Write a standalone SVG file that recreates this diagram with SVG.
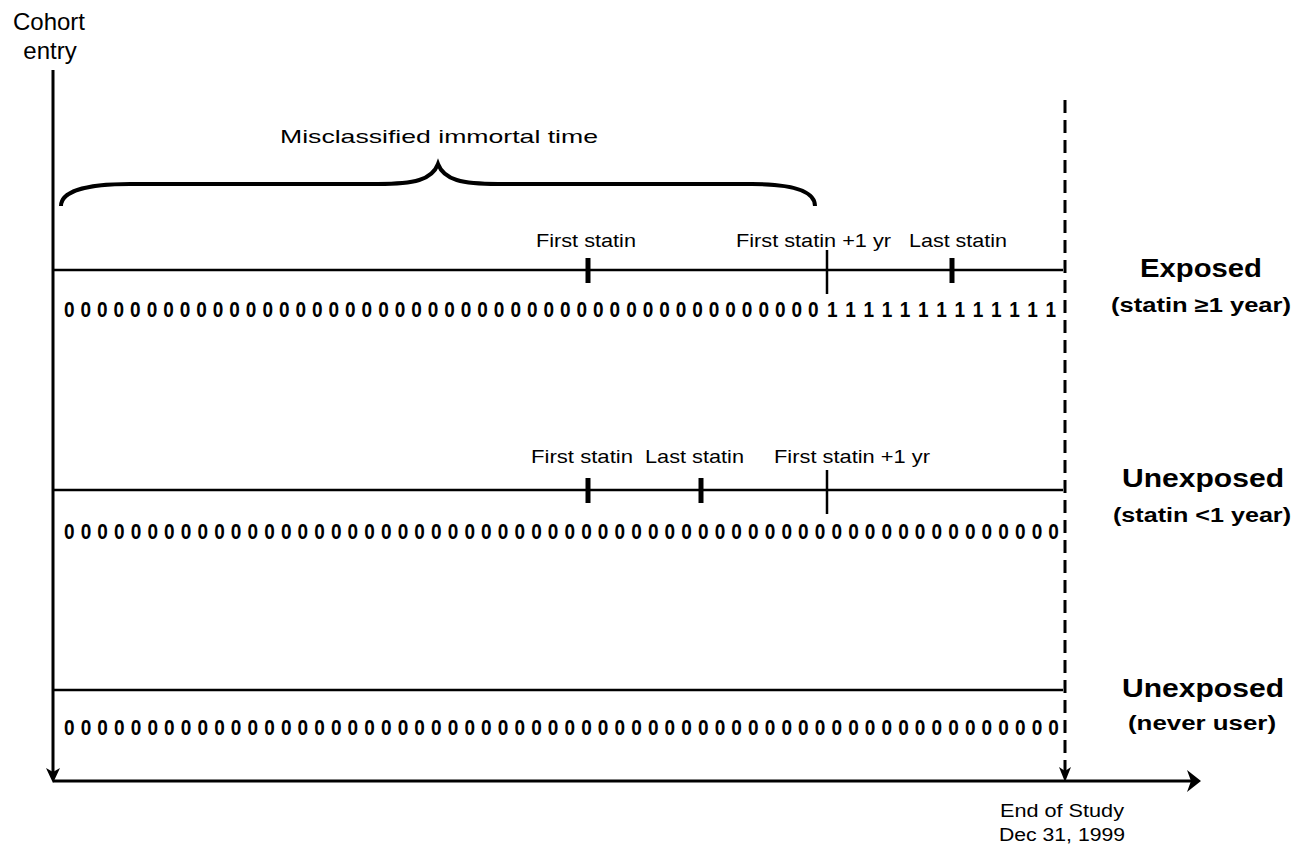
<svg xmlns="http://www.w3.org/2000/svg" width="1313" height="849" viewBox="0 0 1313 849">
<style>
.ax{stroke:#000;stroke-width:3;fill:none}
.row{stroke:#000;stroke-width:2.5;fill:none}
.tk{stroke:#000;stroke-width:5;fill:none}
.tn{stroke:#000;stroke-width:2.5;fill:none}
.dash{stroke:#000;stroke-width:3;fill:none;stroke-dasharray:13 7}
.ah{fill:#000;stroke:none}
.lbl{font-family:"Liberation Sans",Arial,sans-serif;font-size:19px;fill:#000}
.big{font-family:"Liberation Sans",Arial,sans-serif;font-size:25px;font-weight:bold;fill:#000;text-anchor:middle}
.sub{font-family:"Liberation Sans",Arial,sans-serif;font-size:20px;font-weight:bold;fill:#000;text-anchor:middle}
.dig{font-family:"Liberation Sans",Arial,sans-serif;font-size:19px;font-weight:bold;fill:#000}
.top{font-family:"Liberation Sans",Arial,sans-serif;font-size:24px;fill:#000;text-anchor:middle}
.end{font-family:"Liberation Sans",Arial,sans-serif;font-size:18px;fill:#000;text-anchor:middle}
</style>
<g id="connectors">
<line class="ax" x1="53" y1="70" x2="53" y2="772"/>
<path class="ah" d="M53,783 L46,768 L53,772 L60,768 Z"/>
<line class="ax" x1="53" y1="781" x2="1192" y2="781"/>
<path class="ah" d="M1201,781 L1187,770 L1191,781 L1187,792 Z"/>
<line class="dash" x1="1065" y1="100" x2="1065" y2="771"/>
<path class="ah" d="M1065,782 L1059,767 L1065,771 L1071,767 Z"/>
</g>
<g id="cohort-entry"><text class="top" x="49" y="30">Cohort</text><text class="top" x="50" y="59">entry</text></g>
<g id="immortal-brace">
<path d="M61,206 C61,191 88,184 130,184 L378,184 C414,184 432,180 438,164 C444,180 462,184 498,184 L752,184 C792,184 815,191 815,206" stroke="#000" stroke-width="4" fill="none"/>
<text class="lbl" x="439" y="143" text-anchor="middle" font-size="23" textLength="318" lengthAdjust="spacingAndGlyphs">Misclassified immortal time</text>
</g>
<g id="row-exposed">
<line class="row" x1="53" y1="270" x2="1063" y2="270"/>
<line class="tk" x1="588" y1="258" x2="588" y2="283"/>
<line class="tn" x1="827" y1="250" x2="827" y2="294"/>
<line class="tk" x1="952" y1="258" x2="952" y2="283"/>
<text class="lbl" x="536" y="247" textLength="100" lengthAdjust="spacingAndGlyphs">First statin</text>
<text class="lbl" x="736" y="247" textLength="155" lengthAdjust="spacingAndGlyphs">First statin +1 yr</text>
<text class="lbl" x="909" y="247" textLength="98" lengthAdjust="spacingAndGlyphs">Last statin</text>
<g transform="translate(0,317) scale(1,1.15)"><text class="dig" x="64" y="0" letter-spacing="5.97">0000000000000000000000000000000000000000000000</text><text class="dig" x="827" y="0" letter-spacing="8.7">1111111111111</text></g>
<text class="big" x="1201" y="277" textLength="122" lengthAdjust="spacingAndGlyphs">Exposed</text>
<text class="sub" x="1201" y="312" textLength="180" lengthAdjust="spacingAndGlyphs">(statin ≥1 year)</text>
</g>
<g id="row-unexposed-short">
<line class="row" x1="53" y1="490" x2="1063" y2="490"/>
<line class="tk" x1="588" y1="478" x2="588" y2="503"/>
<line class="tk" x1="701" y1="478" x2="701" y2="503"/>
<line class="tn" x1="827" y1="470" x2="827" y2="514"/>
<text class="lbl" x="531" y="463" textLength="102" lengthAdjust="spacingAndGlyphs">First statin</text>
<text class="lbl" x="645" y="463" textLength="99" lengthAdjust="spacingAndGlyphs">Last statin</text>
<text class="lbl" x="774" y="463" textLength="156" lengthAdjust="spacingAndGlyphs">First statin +1 yr</text>
<g transform="translate(0,539) scale(1,1.15)"><text class="dig" x="64" y="0" letter-spacing="6.12">000000000000000000000000000000000000000000000000000000000000</text></g>
<text class="big" x="1203" y="487" textLength="162" lengthAdjust="spacingAndGlyphs">Unexposed</text>
<text class="sub" x="1202" y="522" textLength="178" lengthAdjust="spacingAndGlyphs">(statin &lt;1 year)</text>
</g>
<g id="row-never-user">
<line class="row" x1="53" y1="690" x2="1063" y2="690"/>
<g transform="translate(0,735) scale(1,1.15)"><text class="dig" x="64" y="0" letter-spacing="6.12">000000000000000000000000000000000000000000000000000000000000</text></g>
<text class="big" x="1203" y="697" textLength="162" lengthAdjust="spacingAndGlyphs">Unexposed</text>
<text class="sub" x="1202" y="730" textLength="148" lengthAdjust="spacingAndGlyphs">(never user)</text>
</g>
<g id="end-of-study">
<text class="end" x="1062" y="817" textLength="124" lengthAdjust="spacingAndGlyphs">End of Study</text>
<text class="end" x="1062" y="841" textLength="126" lengthAdjust="spacingAndGlyphs">Dec 31, 1999</text>
</g>
</svg>
